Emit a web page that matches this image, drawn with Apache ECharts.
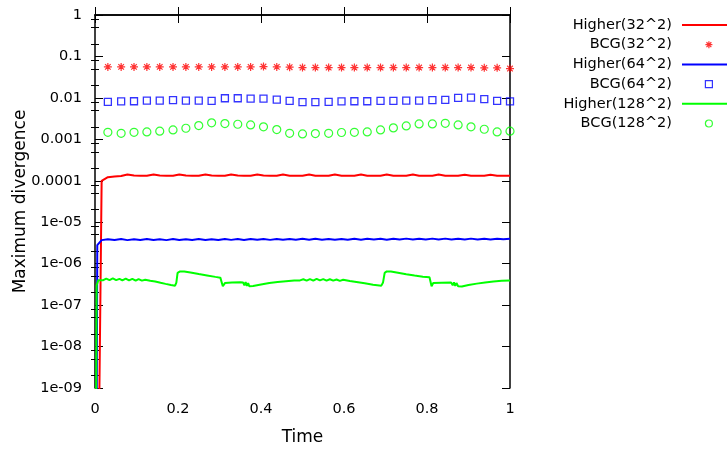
<!DOCTYPE html>
<html>
<head>
<meta charset="utf-8">
<script src="https://cdn.jsdelivr.net/npm/echarts@6/dist/echarts.min.js"></script>
<style>html,body{margin:0;padding:0;background:#fff;}#c{width:727px;height:450px;}</style>
</head>
<body>
<div id="c"></div>
<script>
// ---------- data ----------
var seriesNames = ['Higher(32^2)', 'BCG(32^2)', 'Higher(64^2)', 'BCG(64^2)', 'Higher(128^2)', 'BCG(128^2)'];
var xTickLabels = ['0', '0.2', '0.4', '0.6', '0.8', '1'];
var yTickLabels = ['1e-09', '1e-08', '1e-07', '1e-06', '1e-05', '0.0001', '0.001', '0.01', '0.1', '1'];

var bcgTime = [0.031,0.063,0.094,0.125,0.156,0.188,0.219,0.25,0.281,0.313,0.344,0.375,0.406,0.438,0.469,0.5,
               0.531,0.563,0.594,0.625,0.656,0.688,0.719,0.75,0.781,0.813,0.844,0.875,0.906,0.938,0.969,1.0];
var bcg32 = [0.056,0.056,0.056,0.056,0.056,0.056,0.056,0.056,0.056,0.056,0.056,0.056,0.057,0.056,0.055,0.054,
             0.054,0.054,0.054,0.054,0.054,0.054,0.054,0.054,0.054,0.054,0.054,0.054,0.054,0.053,0.053,0.051];
var bcg64 = [0.0080,0.0082,0.0083,0.0086,0.0086,0.0088,0.0086,0.0086,0.0085,0.0098,0.0098,0.0096,0.0096,0.0091,0.0085,0.0079,
             0.0079,0.0080,0.0082,0.0083,0.0083,0.0085,0.0085,0.0086,0.0086,0.0088,0.0090,0.0100,0.0102,0.0093,0.0085,0.0082];
var bcg128 = [0.00148,0.00140,0.00148,0.00151,0.00157,0.00169,0.00185,0.00215,0.00250,0.00240,0.00231,0.00223,0.00200,0.00172,0.00140,0.00135,
              0.00138,0.00140,0.00146,0.00148,0.00151,0.00169,0.00189,0.00211,0.00236,0.00236,0.00244,0.00223,0.00200,0.00175,0.00151,0.00157];

var grid64 = [0.031,0.047,0.063,0.078,0.094,0.109,0.125,0.141,0.156,0.172,0.188,0.203,0.219,0.234,0.25,0.266,
              0.281,0.297,0.313,0.328,0.344,0.359,0.375,0.391,0.406,0.422,0.438,0.453,0.469,0.484,0.5,0.516,
              0.531,0.547,0.563,0.578,0.594,0.609,0.625,0.641,0.656,0.672,0.688,0.703,0.719,0.734,0.75,0.766,
              0.781,0.797,0.813,0.828,0.844,0.859,0.875,0.891,0.906,0.922,0.938,0.953,0.969,0.984,1.0];

var higher32Time = [0.0096, 0.016].concat(grid64);
var higher32 = [1e-10, 1.0e-4,
  1.22e-4,1.27e-4,1.30e-4,1.42e-4,1.34e-4,1.33e-4,1.33e-4,1.42e-4,1.34e-4,1.33e-4,1.33e-4,1.42e-4,1.34e-4,1.33e-4,1.33e-4,
  1.41e-4,1.34e-4,1.33e-4,1.33e-4,1.42e-4,1.34e-4,1.33e-4,1.33e-4,1.41e-4,1.34e-4,1.33e-4,1.33e-4,1.41e-4,1.33e-4,1.33e-4,
  1.32e-4,1.41e-4,1.33e-4,1.33e-4,1.32e-4,1.41e-4,1.33e-4,1.33e-4,1.32e-4,1.41e-4,1.33e-4,1.33e-4,1.32e-4,1.41e-4,1.33e-4,
  1.33e-4,1.32e-4,1.41e-4,1.33e-4,1.33e-4,1.32e-4,1.41e-4,1.33e-4,1.32e-4,1.32e-4,1.40e-4,1.33e-4,1.32e-4,1.32e-4,1.40e-4,
  1.33e-4,1.32e-4,1.32e-4];

var higher64Time = [0.004, 0.0055, 0.016].concat(grid64);
var higher64 = [1e-10, 2.8e-6, 3.7e-6,
  3.90e-6,3.72e-6,3.92e-6,3.70e-6,3.90e-6,3.74e-6,3.93e-6,3.72e-6,3.90e-6,3.70e-6,3.92e-6,3.73e-6,3.90e-6,3.72e-6,3.94e-6,
  3.74e-6,3.90e-6,3.72e-6,3.93e-6,3.75e-6,3.92e-6,3.74e-6,3.95e-6,3.76e-6,3.93e-6,3.75e-6,3.95e-6,3.78e-6,3.96e-6,3.80e-6,
  3.97e-6,3.78e-6,3.98e-6,3.80e-6,3.96e-6,3.76e-6,3.95e-6,3.78e-6,3.98e-6,3.80e-6,4.00e-6,3.82e-6,3.98e-6,3.80e-6,4.00e-6,
  3.82e-6,4.02e-6,3.83e-6,4.00e-6,3.82e-6,4.02e-6,3.84e-6,4.02e-6,3.82e-6,4.00e-6,3.84e-6,4.02e-6,3.83e-6,4.00e-6,3.84e-6,
  4.00e-6,3.86e-6,3.98e-6];

var higher128Time = [0.0024,0.004,0.008,0.012,0.020,0.027,0.035,0.043,0.051,0.059,0.066,0.074,0.082,0.090,0.098,0.105,0.113,0.121,
  0.133,0.145,0.158,0.170,0.183,0.193,0.196,0.199,0.205,0.215,0.230,0.250,0.270,0.290,0.302,0.305,0.308,0.313,0.330,0.350,
  0.357,0.360,0.363,0.366,0.369,0.372,0.376,0.381,0.400,0.420,0.440,0.460,0.480,0.494,
  0.502,0.510,0.518,0.526,0.534,0.542,0.550,0.558,0.566,0.574,0.582,0.590,0.598,0.614,0.630,0.650,0.670,0.690,0.694,0.698,
  0.703,0.713,0.730,0.750,0.770,0.790,0.806,0.809,0.811,0.815,0.835,0.858,0.862,0.865,0.868,0.871,0.875,0.879,0.884,
  0.900,0.920,0.940,0.960,0.980,1.0];
var higher128 = [1e-10,3.0e-7,4.0e-7,4.25e-7,4.0e-7,4.35e-7,4.0e-7,4.4e-7,4.0e-7,4.3e-7,3.95e-7,4.35e-7,3.95e-7,4.3e-7,3.9e-7,4.25e-7,3.9e-7,4.1e-7,
  3.85e-7,3.7e-7,3.45e-7,3.25e-7,3.05e-7,2.95e-7,3.5e-7,6.0e-7,6.5e-7,6.5e-7,6.1e-7,5.6e-7,5.2e-7,4.8e-7,4.6e-7,4.4e-7,2.85e-7,3.4e-7,3.5e-7,3.55e-7,
  3.5e-7,3.0e-7,3.6e-7,2.9e-7,3.4e-7,2.85e-7,3.1e-7,2.9e-7,3.15e-7,3.4e-7,3.6e-7,3.75e-7,3.9e-7,3.95e-7,
  4.2e-7,3.9e-7,4.25e-7,3.9e-7,4.3e-7,3.95e-7,4.25e-7,3.9e-7,4.2e-7,3.9e-7,4.15e-7,3.85e-7,4.1e-7,3.8e-7,3.6e-7,3.35e-7,3.1e-7,2.95e-7,3.5e-7,6.0e-7,
  6.5e-7,6.5e-7,6.05e-7,5.55e-7,5.15e-7,4.85e-7,4.7e-7,4.4e-7,2.85e-7,3.4e-7,3.45e-7,3.5e-7,3.0e-7,3.55e-7,2.9e-7,3.4e-7,2.85e-7,3.1e-7,2.8e-7,
  3.05e-7,3.3e-7,3.5e-7,3.7e-7,3.85e-7,3.95e-7];

// ---------- build ----------
function pairs(t, v) { return t.map(function (x, i) { return [x, v[i]]; }); }
var FONT = 'DejaVu Sans';
var RED = '#ff0000', BLUE = '#0000ff', GREEN = '#00ff00';
var STAR = 'path://M5,0V10M0,5H10M1.5,1.5L8.5,8.5M1.5,8.5L8.5,1.5';

var minorVals = [];
for (var d = -9; d < 0; d++) {
  [2, 5, 8].forEach(function (m) { minorVals.push(d + Math.log10(m)); });
}
function yLabel(v) {
  var e = Math.round(Math.log10(v));
  return yTickLabels[e + 9];
}
function xLabel(v) {
  return xTickLabels[Math.round(v / 0.2)];
}

var tickStyle = { color: '#000', width: 1 };
var axisLineStyle = { color: '#000', width: 1.5 };

var chart = echarts.init(document.getElementById('c'), null, { renderer: 'canvas' });
chart.setOption({
  animation: false,
  backgroundColor: '#fff',
  textStyle: { fontFamily: FONT },
  grid: { left: 95, right: 217, top: 15, bottom: 62, containLabel: false, outerBoundsMode: 'none' },
  xAxis: [
    {
      type: 'value', min: 0, max: 1, interval: 0.2, position: 'bottom',
      name: 'Time', nameLocation: 'middle', nameGap: 41, nameMoveOverlap: false,
      nameTextStyle: { fontFamily: FONT, fontSize: 17, color: '#000' },
      axisLine: { show: true, lineStyle: axisLineStyle },
      axisTick: { show: true, inside: true, length: 8, lineStyle: tickStyle },
      axisLabel: { show: true, formatter: xLabel, fontFamily: FONT, fontSize: 14.5, color: '#000', margin: 14 },
      splitLine: { show: false }
    },
    {
      type: 'value', min: 0, max: 1, interval: 0.2, position: 'top',
      axisLine: { show: true, onZero: false, lineStyle: axisLineStyle },
      axisTick: { show: true, inside: true, length: 8, lineStyle: tickStyle },
      axisLabel: { show: false },
      splitLine: { show: false }
    }
  ],
  yAxis: [
    {
      type: 'log', logBase: 10, min: 1e-9, max: 1, interval: 1, position: 'left',
      name: 'Maximum divergence', nameLocation: 'middle', nameGap: 66, nameRotate: 90, nameMoveOverlap: false,
      nameTextStyle: { fontFamily: FONT, fontSize: 17, color: '#000' },
      axisLine: { show: true, onZero: false, lineStyle: axisLineStyle },
      axisTick: { show: true, inside: true, length: 8, lineStyle: tickStyle },
      axisLabel: { show: true, formatter: yLabel, fontFamily: FONT, fontSize: 14.5, color: '#000', margin: 13 },
      splitLine: { show: false }, minorTick: { show: false }
    },
    {
      type: 'value', min: -9, max: 0, position: 'left',
      axisLine: { show: false },
      axisTick: { show: true, inside: true, length: 4, lineStyle: tickStyle, customValues: minorVals },
      axisLabel: { show: false },
      splitLine: { show: false }
    },
    {
      type: 'log', logBase: 10, min: 1e-9, max: 1, interval: 1, position: 'right',
      axisLine: { show: true, onZero: false, lineStyle: axisLineStyle },
      axisTick: { show: true, inside: true, length: 8, lineStyle: tickStyle },
      axisLabel: { show: false },
      splitLine: { show: false }
    },
    {
      type: 'value', min: -9, max: 0, position: 'right',
      axisLine: { show: false },
      axisTick: { show: true, inside: true, length: 4, lineStyle: tickStyle, customValues: minorVals },
      axisLabel: { show: false },
      splitLine: { show: false }
    }
  ],
  legend: [
    { // texts
      orient: 'vertical', align: 'right', right: 50, top: 15.15, padding: 0, itemGap: 0,
      itemWidth: 1, itemHeight: 10, selectedMode: false,
      itemStyle: { opacity: 0 },
      textStyle: { fontFamily: FONT, fontSize: 14.5, color: '#000', lineHeight: 19.7 },
      data: seriesNames.map(function (n) { return { name: n, icon: 'none' }; })
    },
    { // line samples
      orient: 'vertical', align: 'right', right: 0, top: 15.15, padding: 0, itemGap: 19.7,
      itemWidth: 45, itemHeight: 2, selectedMode: false,
      formatter: function () { return ' '; },
      textStyle: { fontFamily: FONT, fontSize: 14.5, lineHeight: 19.7 },
      data: [seriesNames[0], seriesNames[2], seriesNames[4]].map(function (n) { return { name: n, icon: 'rect' }; })
    },
    { // markers
      orient: 'vertical', align: 'right', right: 14, top: 34.85, padding: 0, itemGap: 19.7,
      itemWidth: 7, itemHeight: 7, selectedMode: false, symbolKeepAspect: true,
      itemStyle: { borderWidth: 1.2 },
      formatter: function () { return ' '; },
      textStyle: { fontFamily: FONT, fontSize: 14.5, lineHeight: 19.7 },
      data: [seriesNames[1], seriesNames[3], seriesNames[5]]
    }
  ],
  series: [
    {
      name: seriesNames[0], type: 'line', xAxisIndex: 0, yAxisIndex: 0,
      data: pairs(higher32Time, higher32), symbol: 'none', showSymbol: false, clip: true,
      itemStyle: { color: RED }, lineStyle: { color: RED, width: 2 }, z: 3
    },
    {
      name: seriesNames[1], type: 'scatter', xAxisIndex: 0, yAxisIndex: 0,
      data: pairs(bcgTime, bcg32), symbol: STAR, symbolSize: 8,
      itemStyle: { color: 'rgba(0,0,0,0)', borderColor: RED, borderWidth: 1.2 }, z: 4
    },
    {
      name: seriesNames[2], type: 'line', xAxisIndex: 0, yAxisIndex: 0,
      data: pairs(higher64Time, higher64), symbol: 'none', showSymbol: false, clip: true,
      itemStyle: { color: BLUE }, lineStyle: { color: BLUE, width: 2 }, z: 3
    },
    {
      name: seriesNames[3], type: 'scatter', xAxisIndex: 0, yAxisIndex: 0,
      data: pairs(bcgTime, bcg64), symbol: 'rect', symbolSize: 7,
      itemStyle: { color: 'rgba(0,0,0,0)', borderColor: BLUE, borderWidth: 1.3 }, z: 4
    },
    {
      name: seriesNames[4], type: 'line', xAxisIndex: 0, yAxisIndex: 0,
      data: pairs(higher128Time, higher128), symbol: 'none', showSymbol: false, clip: true,
      itemStyle: { color: GREEN }, lineStyle: { color: GREEN, width: 2 }, z: 3
    },
    {
      name: seriesNames[5], type: 'scatter', xAxisIndex: 0, yAxisIndex: 0,
      data: pairs(bcgTime, bcg128), symbol: 'circle', symbolSize: 8,
      itemStyle: { color: 'rgba(0,0,0,0)', borderColor: GREEN, borderWidth: 1.2 }, z: 4
    }
  ]
});
</script>
</body>
</html>
